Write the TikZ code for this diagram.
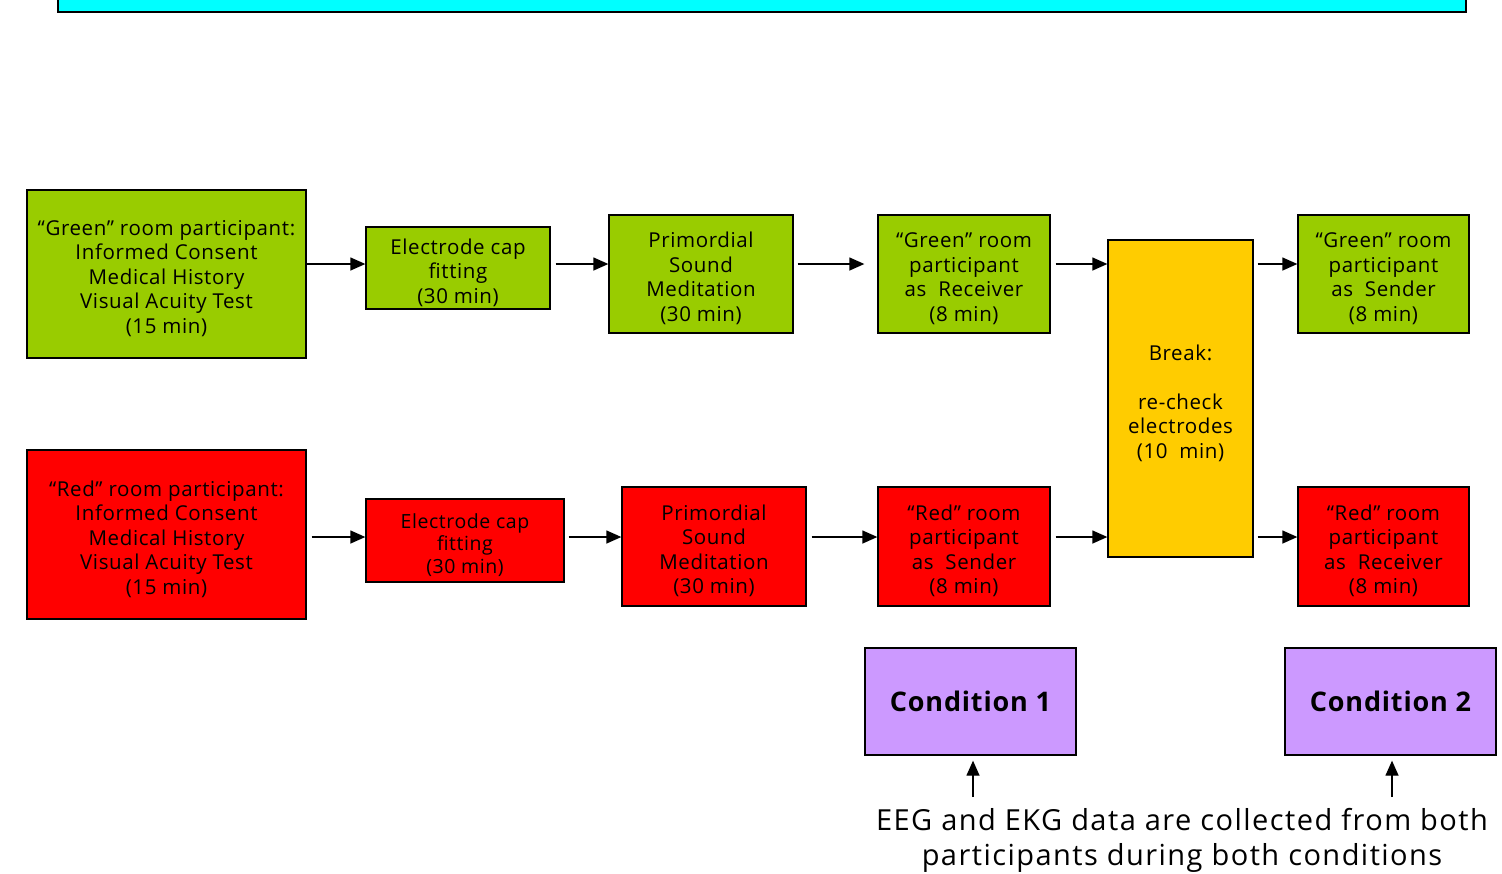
\documentclass[tikz,border=0pt]{standalone}
\usepackage{fontspec}
\setmainfont{Open Sans}
\usetikzlibrary{arrows.meta}
\definecolor{cgreen}{HTML}{99CC00}
\definecolor{cred}{HTML}{FF0000}
\definecolor{cyellow}{HTML}{FFCC00}
\definecolor{cpurple}{HTML}{CC99FF}
\definecolor{ccyan}{HTML}{00FFFF}
\begin{document}
\begin{tikzpicture}[x=1pt,y=-1pt,
  box/.style={draw=black, line width=1.3pt, inner sep=0pt},
  gbox/.style={box, fill=cgreen},
  rbox/.style={box, fill=cred},
  ybox/.style={box, fill=cyellow},
  pbox/.style={box, fill=cpurple, align=center, font=\fontsize{27}{32}\selectfont\bfseries\addfontfeatures{LetterSpace=3}},
  txt/.style={align=center, inner sep=0pt, yshift=-4.5pt,
    font=\fontsize{20.5}{24.5}\selectfont\addfontfeatures{LetterSpace=3}},
  arr/.style={line width=1.3pt, -{Triangle[length=15pt,width=13pt]}}]
\useasboundingbox (0,0) rectangle (1502,873);
% title bar (cut off)
\draw[fill=ccyan, draw=black, line width=1.2pt] (58,-5) rectangle (1466,12);
% green row
\node[gbox, minimum width=279, minimum height=168,
  label={[txt]center:{“Green” room participant:\\Informed Consent\\Medical History\\Visual Acuity Test\\(15 min)}}] (g1) at (166.5,274) {};
\node[gbox, minimum width=184, minimum height=82,
  label={[txt]center:{Electrode cap\\fitting\\(30 min)}}] (g2) at (458,268) {};
\node[gbox, minimum width=184, minimum height=118,
  label={[txt]center:{Primordial\\Sound\\Meditation\\(30 min)}}] (g3) at (701,274) {};
\node[gbox, minimum width=172, minimum height=118,
  label={[txt]center:{“Green” room\\participant\\as~ Receiver\\(8 min)}}] (g4) at (964,274) {};
\node[ybox, minimum width=145, minimum height=317,
  label={[txt]center:{Break:\\[24.5pt]re-check\\electrodes\\(10~ min)}}] (brk) at (1180.5,398.5) {};
\node[gbox, minimum width=171, minimum height=118,
  label={[txt]center:{“Green” room\\participant\\as~ Sender\\(8 min)}}] (g5) at (1383.5,274) {};
% red row
\node[rbox, minimum width=279, minimum height=169,
  label={[txt]center:{“Red” room participant:\\Informed Consent\\Medical History\\Visual Acuity Test\\(15 min)}}] (r1) at (166.5,534.5) {};
\node[rbox, minimum width=198, minimum height=83,
  label={[txt, font=\fontsize{19.5}{22.5}\selectfont\addfontfeatures{LetterSpace=3}]center:{Electrode cap\\fitting\\(30 min)}}] (r2) at (465,540.5) {};
\node[rbox, minimum width=184, minimum height=119,
  label={[txt]center:{Primordial\\Sound\\Meditation\\(30 min)}}] (r3) at (714,546.5) {};
\node[rbox, minimum width=172, minimum height=119,
  label={[txt]center:{“Red” room\\participant\\as~ Sender\\(8 min)}}] (r4) at (964,546.5) {};
\node[rbox, minimum width=171, minimum height=119,
  label={[txt]center:{“Red” room\\participant\\as~ Receiver\\(8 min)}}] (r5) at (1383.5,546.5) {};
% conditions
\node[pbox, minimum width=211, minimum height=107] (c1) at (970.5,701.5) {Condition 1};
\node[pbox, minimum width=211, minimum height=107] (c2) at (1390.5,701.5) {Condition 2};
\node[align=center, inner sep=0pt, font=\fontsize{29}{35}\selectfont\addfontfeatures{LetterSpace=5}] (note) at (1182,840)
  {EEG and EKG data are collected from both\\participants during both conditions};
% arrows
\coordinate (gy) at (0,264);
\coordinate (ry) at (0,537);
\draw[arr] (g1.east |- gy) -- (g2.west |- gy);
\draw[arr, shorten <=5pt] (g2.east |- gy) -- (g3.west |- gy);
\draw[arr, shorten <=4pt, shorten >=13pt] (g3.east |- gy) -- (g4.west |- gy);
\draw[arr, shorten <=5pt] (g4.east |- gy) -- (brk.west |- gy);
\draw[arr, shorten <=4pt] (brk.east |- gy) -- (g5.west |- gy);
\draw[arr, shorten <=5pt] (r1.east |- ry) -- (r2.west |- ry);
\draw[arr, shorten <=4pt] (r2.east |- ry) -- (r3.west |- ry);
\draw[arr, shorten <=5pt] (r3.east |- ry) -- (r4.west |- ry);
\draw[arr, shorten <=5pt] (r4.east |- ry) -- (brk.west |- ry);
\draw[arr, shorten <=4pt] (brk.east |- ry) -- (r5.west |- ry);
\coordinate (n1) at (973,797);
\coordinate (n2) at (1392,797);
\draw[arr, shorten >=5pt] (n1) -- (c1.south -| n1);
\draw[arr, shorten >=5pt] (n2) -- (c2.south -| n2);
\end{tikzpicture}
\end{document}
